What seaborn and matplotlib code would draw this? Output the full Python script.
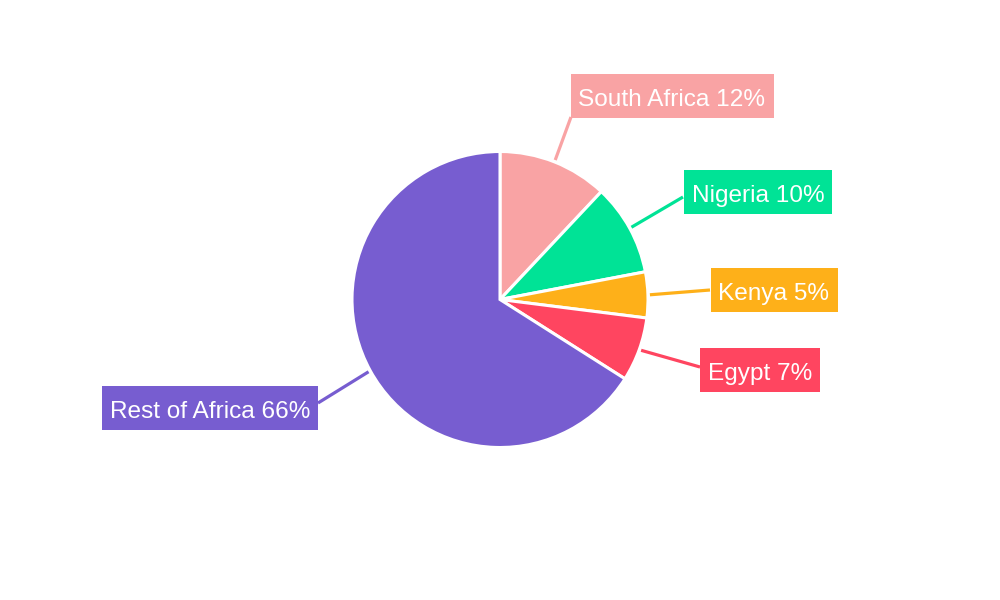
import numpy as np
import matplotlib
matplotlib.use("Agg")
import matplotlib.pyplot as plt
from matplotlib.patches import Rectangle
import seaborn as sns

categories = ["South Africa", "Nigeria", "Kenya", "Egypt", "Rest of Africa"]
shares = [12, 10, 5, 7, 66]
colors = ["#F9A3A4", "#00E396", "#FEB019", "#FF4560", "#775DD0"]

# layout: label box centres and leader line end points (pixel coords, y down)
label_centers = [(672, 96), (758, 192), (774, 290), (760, 370), (210, 408)]
line_ends = [(571, 117), (683, 197), (710, 290), (700, 367), (318, 403)]
BOX_H = 44
PAD_X = 8

sns.set_theme(style="white")
plt.rcParams["font.family"] = ["Liberation Sans", "DejaVu Sans"]

W, H = 1000, 600
fig = plt.figure(figsize=(10, 6), dpi=100)
ax = fig.add_axes([0, 0, 1, 1])
ax.set_xlim(0, W)
ax.set_ylim(0, H)
ax.set_aspect("equal")
ax.axis("off")

cx, cy, r = 500, H - 299.5, 148
wedges, _ = ax.pie(shares, colors=colors, startangle=90, counterclock=False,
                   center=(cx, cy), radius=r,
                   wedgeprops=dict(edgecolor="white", linewidth=2.2))
ax.set_xlim(0, W)
ax.set_ylim(0, H)

renderer = fig.canvas.get_renderer()
total = sum(shares)
cum = 0
for i, (cat, v) in enumerate(zip(categories, shares)):
    mid = 90 - (cum + v / 2) / total * 360
    cum += v
    th = np.deg2rad(mid)
    sx, sy = cx + (r + 2) * np.cos(th), cy + (r + 2) * np.sin(th)
    ex, ey = line_ends[i]
    ax.plot([sx, ex], [sy, H - ey], color=colors[i], lw=2.3,
            solid_capstyle="butt", zorder=1)
    tx, ty = label_centers[i]
    t = ax.text(tx, H - ty - 10, f"{cat} {v}%", ha="center", va="baseline",
                fontsize=17.6, color="white", zorder=4)
    bb = t.get_window_extent(renderer=renderer)
    w = bb.width + 2 * PAD_X
    ax.add_patch(Rectangle((tx - w / 2, H - ty - BOX_H / 2), w, BOX_H,
                           fc=colors[i], ec="none", zorder=3))

fig.savefig("out.png", dpi=100, facecolor="white")
